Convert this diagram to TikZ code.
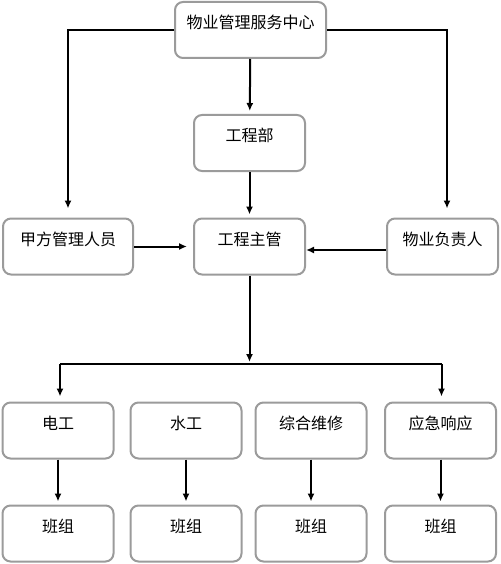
\documentclass[tikz,border=0pt]{standalone}
\usepackage{fontspec}
\newfontfamily\cjk{Noto Sans CJK SC}
\usetikzlibrary{arrows.meta}
\definecolor{boxgray}{RGB}{155,155,155}
\tikzset{
  obox/.style   = {draw=boxgray, line width=2pt, rounded corners=8pt, fill=white,
                   inner xsep=0pt, inner ysep=0pt, text height=27pt, text depth=29pt,
                   font=\cjk\fontsize{16}{18}\selectfont},
  % widths follow the boxes of the chart
  wbox/.style   = {obox, minimum width=111pt},
  link/.style   = {draw=black, line width=2pt},
  arr/.style    = {link, -{Latex[length=8pt,width=7pt]}, shorten >=3pt},
}

\begin{document}
\begin{tikzpicture}[x=1pt, y=-1pt]
    \useasboundingbox (0,0) rectangle (500,564);

    \node[obox, minimum width=151pt] (ctr) at (250.5, 30) {物业管理服务中心};
    \node[wbox] (dept) at (249.5, 143) {工程部};

    \node[obox, minimum width=130pt] (party) at (68, 246.5) {甲方管理人员};
    \node[wbox] (chief) at (249.5, 246.5) {工程主管};
    \node[wbox] (owner) at (442.5, 246.5) {物业负责人};

    \node[wbox] (elec)  at (58, 430.5)  {电工};
    \node[wbox] (water) at (186, 430.5) {水工};
    \node[wbox] (maint) at (311, 430.5) {综合维修};
    \node[wbox] (emerg) at (440.5, 430.5) {应急响应};

    \node[wbox] (g1) at (58, 533.5)  {班组};
    \node[wbox] (g2) at (186, 533.5) {班组};
    \node[wbox] (g3) at (311, 533.5) {班组};
    \node[wbox] (g4) at (440.5, 533.5) {班组};

    \coordinate (busl) at (60, 364);
    \coordinate (busr) at (441.5, 364);

    \draw[arr, shorten >=9pt] (ctr.west) -| (party.north);
    \draw[arr, shorten >=9pt] (ctr.east) -| ([xshift=4.5pt]owner.north);
    \draw[arr] (ctr) -- (dept);
    \draw[arr] (dept) -- (chief);
    \draw[arr, shorten >=6pt] (party) -- (chief);
    \draw[arr, shorten >=0pt] ([yshift=-3.5pt]owner.west) -- ([yshift=-3.5pt]chief.east);

    \draw[arr, shorten >=2pt] (chief.south) -- (chief.south |- busl);
    \draw[link] (busl) -- (busr);
    \draw[arr, shorten >=5pt] (busl) -- (busl |- elec.north);
    \draw[arr, shorten >=5pt] (busr) -- (busr |- emerg.north);

    \draw[arr] (elec) -- (g1);
    \draw[arr] (water) -- (g2);
    \draw[arr] (maint) -- (g3);
    \draw[arr] (emerg) -- (g4);
\end{tikzpicture}
\end{document}
